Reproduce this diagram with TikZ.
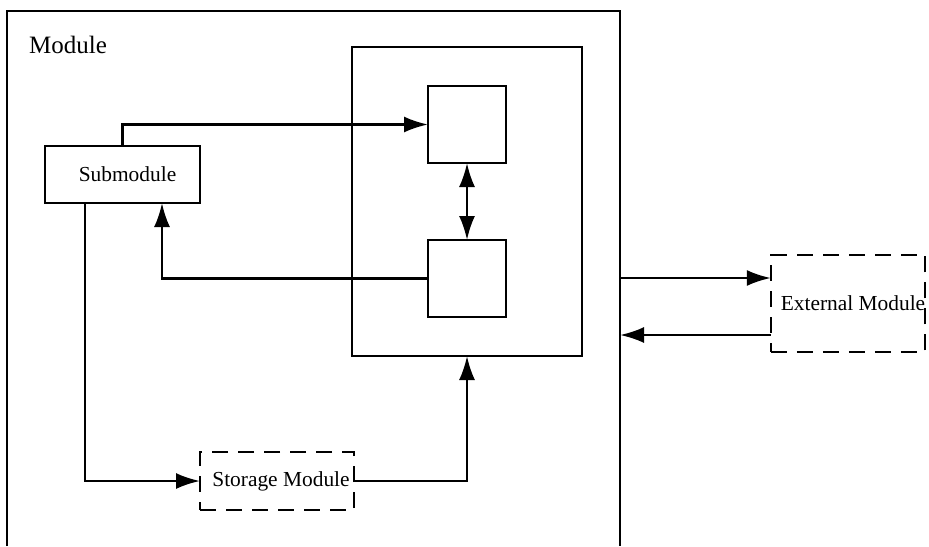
\documentclass[tikz,border=0pt]{standalone}
\usepackage{fontspec}
\setmainfont{Liberation Serif}
\usetikzlibrary{arrows.meta}
\begin{document}
\begin{tikzpicture}[x=0.5pt,y=-0.5pt,
    box/.style={draw, line width=1.4pt, inner sep=0pt, outer sep=0pt, font=\fontsize{10.7}{12}\selectfont},
    dbox/.style={box, line width=1.2pt, dash pattern=on 8pt off 5pt},
    arr/.style={line width=1.2pt, -{Latex[length=12pt,width=8pt]}}]
    \useasboundingbox (0,0) rectangle (929,546);
    % Module frame (open at the bottom)
    \draw[line width=1.4pt] (7,546) -- (7,11) -- (620,11) -- (620,546);
    \node[font=\fontsize{12.5}{14}\selectfont] (ModLbl) at (68,45) {Module};
    % Boxes inside the module
    \node[box, minimum width=77.5pt, minimum height=28.5pt] (Sub) at (122.5,174.5) {\hspace{5pt}Submodule};
    \node[box, minimum width=115pt, minimum height=154.5pt] (Cont) at (467,201.5) {};
    \node[box, minimum width=39pt, minimum height=38.5pt] (Up) at (467,124.5) {};
    \node[box, minimum width=39pt, minimum height=38.5pt] (Low) at (467,278.5) {};
    \node[dbox, minimum width=77pt, minimum height=29pt] (Store) at (277,481) {\hspace{4pt}Storage Module};
    % External box
    \node[dbox, minimum width=77pt, minimum height=48.5pt] (Ext) at (848,303.5) {\hspace{5pt}External Module};
    % Points on the edges
    \coordinate (SubOut) at (85,203);
    \coordinate (SubIn) at (162,203);
    \coordinate (ModOut) at (620,278);
    \coordinate (ModIn) at (620,335);
    % Connectors
    \draw[arr] (Sub.north) |- (Up.west);
    \draw[arr, {Latex[length=12pt,width=8pt]}-{Latex[length=12pt,width=8pt]}] (Up.south) -- (Low.north);
    \draw[arr] (Low.west) -| (SubIn);
    \draw[arr] (SubOut) |- (Store.west);
    \draw[arr] (Store.east) -| (Cont.south);
    \draw[arr] (ModOut) -- (ModOut -| Ext.west);
    \draw[arr] (ModIn -| Ext.west) -- (ModIn);
\end{tikzpicture}
\end{document}
